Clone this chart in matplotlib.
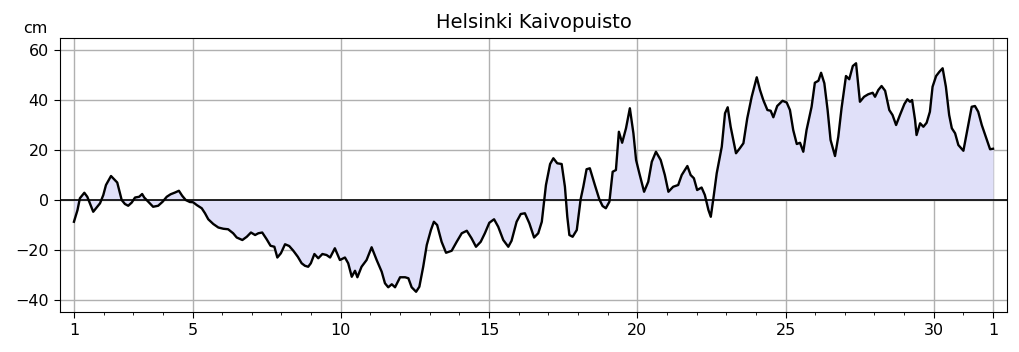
import matplotlib
matplotlib.use("Agg")
import matplotlib.pyplot as plt
from matplotlib.ticker import FixedLocator, FixedFormatter

title = "Helsinki Kaivopuisto"
unit = "cm"

# time in days (1 = first day of month, 32 = first day of next month)
days = [1.00, 1.12, 1.20, 1.35, 1.45, 1.65, 1.88, 1.99, 2.08, 2.25, 2.38, 2.46,
        2.61, 2.72, 2.83, 2.95, 3.06, 3.20, 3.30, 3.37, 3.51, 3.67, 3.84, 3.99,
        4.13, 4.26, 4.41, 4.54, 4.65, 4.77, 4.91, 5.02, 5.14, 5.31, 5.42, 5.53,
        5.70, 5.87, 6.04, 6.20, 6.37, 6.49, 6.68, 6.83, 6.97, 7.11, 7.22, 7.35,
        7.50, 7.63, 7.76, 7.86, 7.98, 8.12, 8.26, 8.40, 8.55, 8.68, 8.79, 8.90,
        8.99, 9.11, 9.24, 9.38, 9.52, 9.64, 9.80, 9.97, 10.14, 10.25, 10.37, 10.48,
        10.56, 10.70, 10.87, 11.04, 11.21, 11.38, 11.49, 11.60, 11.72, 11.83, 12.00,
        12.17, 12.28, 12.39, 12.54, 12.65, 12.78, 12.90, 13.04, 13.14, 13.25, 13.40,
        13.55, 13.74, 13.91, 14.08, 14.25, 14.41, 14.56, 14.72, 14.86, 15.01, 15.17,
        15.31, 15.48, 15.65, 15.76, 15.93, 16.07, 16.21, 16.36, 16.52, 16.66, 16.78,
        16.92, 17.06, 17.17, 17.30, 17.45, 17.56, 17.64, 17.71, 17.82, 17.96, 18.09,
        18.18, 18.29, 18.40, 18.57, 18.72, 18.83, 18.94, 19.06, 19.17, 19.28, 19.38,
        19.49, 19.62, 19.75, 19.87, 19.96, 20.07, 20.23, 20.37, 20.49, 20.63, 20.79,
        20.93, 21.05, 21.21, 21.38, 21.50, 21.69, 21.80, 21.91, 22.02, 22.17, 22.28,
        22.40, 22.48, 22.56, 22.68, 22.85, 22.96, 23.05, 23.15, 23.33, 23.46, 23.58,
        23.71, 23.86, 24.03, 24.14, 24.25, 24.39, 24.50, 24.59, 24.72, 24.90, 25.04,
        25.15, 25.26, 25.38, 25.49, 25.60, 25.71, 25.88, 25.99, 26.11, 26.20, 26.31,
        26.42, 26.52, 26.67, 26.78, 26.89, 27.04, 27.15, 27.27, 27.38, 27.51, 27.65,
        27.79, 27.94, 28.02, 28.13, 28.24, 28.36, 28.50, 28.61, 28.73, 28.86, 29.01,
        29.11, 29.20, 29.27, 29.37, 29.42, 29.54, 29.65, 29.76, 29.87, 29.96, 30.08,
        30.19, 30.30, 30.41, 30.52, 30.61, 30.72, 30.83, 31.00, 31.09, 31.20, 31.28,
        31.39, 31.50, 31.62, 31.76, 31.90, 32.00]

level = [-8.7, -4.0, 0.7, 2.9, 1.3, -4.7, -1.3, 2.0, 6.0, 9.6, 8.0, 7.0,
         0.0, -1.6, -2.3, -1.0, 1.0, 1.3, 2.4, 1.0, -0.7, -2.7, -2.3, -0.7,
         1.3, 2.3, 3.0, 3.7, 1.7, 0.0, -0.8, -0.9, -2.0, -3.3, -5.3, -7.7,
         -9.6, -11.0, -11.5, -11.7, -13.3, -15.0, -16.0, -14.7, -13.0, -14.0, -13.3, -13.0,
         -15.7, -18.3, -18.7, -23.0, -21.3, -17.7, -18.4, -20.3, -22.7, -25.3, -26.3, -26.7,
         -25.3, -21.6, -23.3, -21.6, -22.0, -23.0, -19.3, -24.0, -23.0, -25.3, -30.7, -28.3,
         -30.9, -26.7, -24.0, -18.9, -24.0, -28.7, -33.3, -34.9, -33.7, -34.9, -30.9,
         -30.9, -31.3, -34.9, -36.7, -34.7, -26.7, -18.0, -12.0, -8.7, -10.0, -16.7,
         -21.1, -20.3, -16.7, -13.3, -12.3, -15.3, -18.7, -16.7, -13.3, -9.1, -7.7,
         -10.7, -16.0, -18.7, -16.3, -8.7, -5.6, -5.3, -9.3, -15.0, -13.3, -8.7,
         6.0, 14.4, 16.7, 14.7, 14.4, 5.3, -6.7, -14.0, -14.7, -12.0, 0.3,
         5.3, 12.3, 12.7, 6.0, 0.3, -2.4, -3.3, -0.7, 11.3, 12.0, 27.3,
         22.9, 28.7, 36.7, 26.7, 16.0, 10.7, 3.3, 7.3, 15.3, 19.3, 16.0,
         10.0, 3.3, 5.3, 6.0, 10.0, 13.6, 10.0, 8.7, 4.0, 5.0, 2.0,
         -4.0, -6.7, 0.0, 10.7, 21.3, 34.7, 37.1, 29.3, 18.7, 20.7, 22.7,
         32.7, 41.3, 49.1, 44.0, 40.0, 36.0, 35.7, 33.1, 37.6, 39.7, 39.0,
         36.0, 28.0, 22.4, 22.9, 19.3, 28.0, 37.3, 46.9, 47.7, 50.9, 46.7,
         36.0, 24.0, 17.6, 25.3, 36.7, 49.6, 48.3, 53.6, 54.7, 39.3, 41.3,
         42.3, 42.9, 41.3, 44.0, 45.6, 43.7, 36.0, 34.0, 30.0, 34.0, 38.4,
         40.3, 39.3, 40.0, 32.0, 26.0, 30.7, 29.3, 30.9, 35.3, 45.3, 49.6,
         51.3, 52.7, 45.3, 34.0, 28.7, 26.7, 22.0, 19.7, 25.3, 32.3, 37.3,
         37.6, 35.3, 30.0, 25.1, 20.3, 20.5]

major_ticks = [1, 5, 10, 15, 20, 25, 30, 32]
major_labels = ["1", "5", "10", "15", "20", "25", "30", "1"]
minor_ticks = list(range(1, 33))
y_ticks = [-40, -20, 0, 20, 40, 60]

fig = plt.figure(figsize=(10.19, 3.52), dpi=100)
ax = fig.add_axes([0.0589, 0.1136, 0.9293, 0.7784])

ax.fill_between(days, 0, level, color="#e0e0f9", linewidth=0, zorder=1)
ax.axhline(0, color="black", linewidth=1.2, zorder=2)
ax.plot(days, level, color="black", linewidth=1.7, zorder=3)

ax.set_xlim(0.53, 32.47)
ax.set_ylim(-44.8, 64.8)
ax.xaxis.set_major_locator(FixedLocator(major_ticks))
ax.xaxis.set_major_formatter(FixedFormatter(major_labels))
ax.xaxis.set_minor_locator(FixedLocator(minor_ticks))
ax.set_yticks(y_ticks)
ax.set_yticklabels([str(v) if v >= 0 else "\u2212" + str(-v) for v in y_ticks])
ax.tick_params(axis="both", which="major", labelsize=11.5, length=4.5)
ax.tick_params(axis="x", which="minor", length=2.5)
ax.grid(True, which="major", color="#b0b0b0", linewidth=1.0, zorder=0)
ax.set_axisbelow(True)

ax.set_title(title, fontsize=14, pad=7)
ax.text(-0.0137, 1.018, unit, transform=ax.transAxes, ha="right", va="baseline", fontsize=11.5)

fig.savefig("out.png", dpi=100)
